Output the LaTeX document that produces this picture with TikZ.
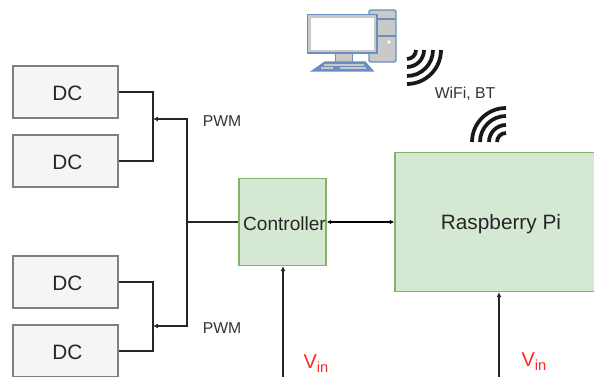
\documentclass[tikz,border=0pt]{standalone}
\usepackage{fontspec}
\setmainfont{Liberation Sans}
\usetikzlibrary{arrows.meta}
\definecolor{blockgreen}{HTML}{D5E8D4}
\definecolor{blockedge}{HTML}{82B366}
\definecolor{iconblue}{HTML}{6C8EBF}
\definecolor{icongray}{HTML}{C9C9C9}
\tikzset{
  dcbox/.style={draw=black!50, fill=black!4, line width=1pt, minimum width=78.75pt,
                minimum height=39pt, inner sep=0pt, text height=13pt, font=\fontsize{15.6}{18}\selectfont,
                text=black!85, execute at begin node={\hspace{3pt}}},
  ctrlbox/.style={draw=blockedge, fill=blockgreen, line width=1pt, inner sep=0pt,
                  font=\fontsize{15.6}{18}\selectfont, text=black!85},
  wire/.style={draw=black!85, line width=1.2pt},
  msg/.style={-{Latex[length=1.3mm,width=1.3mm]}, draw=black!85, line width=1.1pt},
  dmsg/.style={{Latex[length=1.2mm,width=1.2mm]}-{Latex[length=1.2mm,width=1.2mm]}, draw=black, line width=0.8pt},
  lab/.style={inner sep=0pt, font=\fontsize{11.8}{14}\selectfont, text=black!80},
  vlab/.style={inner sep=0pt, font=\fontsize{15}{18}\selectfont, text=red!85!white},
  wavearc/.style={draw=black!90, line width=2.8pt},
  iconpart/.style={draw=iconblue, line width=1pt},
}

\begin{document}
\begin{tikzpicture}[x=0.75pt,y=-0.75pt]
\useasboundingbox (0,0) rectangle (594,377);
\clip (0,0) rectangle (594,377);

% motors
\node[dcbox] (dca) at (65.5,92) {DC};
\node[dcbox] (dcb) at (65.5,161) {DC};
\node[dcbox] (dcc) at (65.5,282) {DC};
\node[dcbox] (dcd) at (65.5,351) {DC};

\node[ctrlbox, minimum width=65.25pt, minimum height=65.25pt, text height=12.5pt,
      font=\fontsize{14.3}{17}\selectfont, execute at begin node={\hspace{3pt}}] (ctrl) at (282.5,222) {Controller};
\node[ctrlbox, minimum width=157.5pt, minimum height=104.25pt, text height=14.5pt,
      execute at begin node={\hspace{1.5pt}}] (rpi) at (500,222) {Raspberry Pi};

\coordinate (jointop) at (153,119);
\coordinate (joinbot) at (153,326);
\coordinate (trunk) at (187,222);
\coordinate (vinc) at (283,380);
\coordinate (vinr) at (499,380);

\draw[wire] (dca.east) -| (jointop) |- (dcb.east);
\draw[wire] (dcc.east) -| (joinbot) |- (dcd.east);
\draw[wire] (ctrl.west) -- (trunk);
\draw[msg] (trunk) |- (jointop);
\draw[msg] (trunk) |- (joinbot);
\draw[dmsg] (ctrl.east) -- (rpi.west);
\draw[msg] (vinc) -- (vinc |- ctrl.south);
\draw[msg] (vinr) -- (vinr |- rpi.south);

\node[lab] (pwma) at (222,121) {PWM};
\node[lab] (pwmb) at (222,328) {PWM};
\node[lab] (radio) at (465,94) {WiFi, BT};
\node[vlab] (vina) at (316,364) {V\raisebox{-3pt}{\fontsize{11}{12}\selectfont in}};
\node[vlab] (vinb) at (534,362) {V\raisebox{-3pt}{\fontsize{11}{12}\selectfont in}};

% computer
\draw[iconpart, fill=icongray, rounded corners=1pt] (369,10) rectangle (396,62);
\draw[iconpart] (369,19) -- (396,19);
\draw[iconpart] (369,36) -- (396,36);
\fill[white] (389,42) circle (1.8);
\draw[iconpart, fill=icongray, line width=0.6pt] (335,53) rectangle (352,62);
\draw[iconpart, fill=icongray] (307.5,14.5) rectangle (377,53);
\fill[white] (311,18) rectangle (374,50);
\draw[iconpart, fill=iconblue] (325,62) -- (365,62) -- (373,71) -- (312,71) -- cycle;
\draw[icongray, line width=0.8pt] (324,65) -- (364,65) (321,68) -- (333,68) (340,68) -- (366,68);

% radio waves
\foreach \r in {9,17,26,34} {
  \draw[wavearc] (407+\r,50) arc[start angle=0, end angle=-90, radius=\r*0.75pt];
  \draw[wavearc] (506-\r,142) arc[start angle=180, end angle=90, radius=\r*0.75pt];
}
\end{tikzpicture}
\end{document}
